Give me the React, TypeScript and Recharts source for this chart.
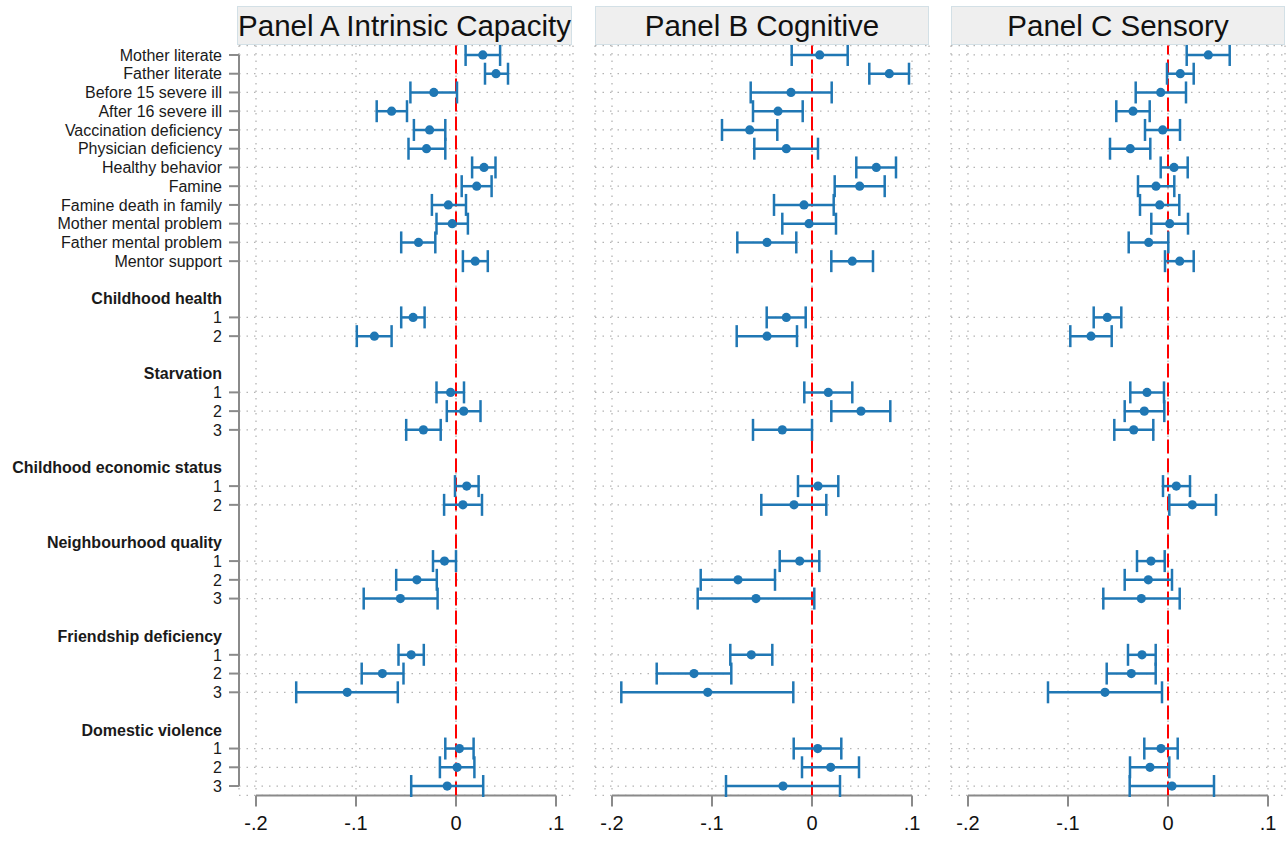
import React from 'react';
import { ScatterChart, Scatter, XAxis, YAxis, CartesianGrid, ReferenceLine, ErrorBar } from 'recharts';

const rowLabels = [
  'Mother literate', 'Father literate', 'Before 15 severe ill', 'After 16 severe ill',
  'Vaccination deficiency', 'Physician deficiency', 'Healthy behavior', 'Famine',
  'Famine death in family', 'Mother mental problem', 'Father mental problem', 'Mentor support',
  '', 'Childhood health', '1', '2',
  '', 'Starvation', '1', '2', '3',
  '', 'Childhood economic status', '1', '2',
  '', 'Neighbourhood quality', '1', '2', '3',
  '', 'Friendship deficiency', '1', '2', '3',
  '', 'Domestic violence', '1', '2', '3',
];
const headerRows = [13, 17, 22, 26, 31, 36];
const dataRows = [0, 1, 2, 3, 4, 5, 6, 7, 8, 9, 10, 11, 14, 15, 18, 19, 20, 23, 24, 27, 28, 29, 32, 33, 34, 37, 38, 39];

const panelTitles = ['Panel A Intrinsic Capacity', 'Panel B Cognitive', 'Panel C Sensory'];
const xTicks = [-0.2, -0.1, 0, 0.1];
const xTickLabels = ['-.2', '-.1', '0', '.1'];

// Panel A
const estA = [0.0268, 0.040, -0.0222, -0.0644, -0.0264, -0.0295, 0.028, 0.0207, -0.0077, -0.0038, -0.0375, 0.0192,
  -0.0429, -0.0816, -0.0054, 0.0077, -0.0326, 0.0107, 0.0069, -0.0115, -0.0391, -0.0556, -0.0448, -0.0736, -0.1088,
  0.0034, 0.0011, -0.0088];
const loA = [0.0096, 0.029, -0.0456, -0.0793, -0.0421, -0.0475, 0.0161, 0.0057, -0.0241, -0.0195, -0.0548, 0.0069,
  -0.0548, -0.0992, -0.0195, -0.0092, -0.0498, -0.001, -0.0119, -0.023, -0.0598, -0.0923, -0.0575, -0.0943, -0.1598,
  -0.0107, -0.0161, -0.0448];
const hiA = [0.0441, 0.052, 0.001, -0.049, -0.0107, -0.0107, 0.0395, 0.0356, 0.010, 0.0119, -0.0207, 0.0318,
  -0.0314, -0.0644, 0.008, 0.0245, -0.0153, 0.0226, 0.026, 0.0, -0.0192, -0.0184, -0.0322, -0.0525, -0.0582,
  0.0176, 0.0184, 0.0272];

// Panel B
const estB = [0.0077, 0.0773, -0.021, -0.034, -0.0623, -0.0257, 0.0643, 0.0477, -0.008, -0.003, -0.045, 0.0403,
  -0.0257, -0.045, 0.0163, 0.049, -0.0297, 0.006, -0.018, -0.0123, -0.074, -0.056, -0.0607, -0.118, -0.1043,
  0.0057, 0.0187, -0.029];
const loB = [-0.0203, 0.0573, -0.0613, -0.059, -0.09, -0.0577, 0.0443, 0.0227, -0.038, -0.0297, -0.0747, 0.0193,
  -0.0453, -0.0753, -0.0077, 0.0193, -0.059, -0.014, -0.0507, -0.0323, -0.1113, -0.1143, -0.0817, -0.1553, -0.1907,
  -0.0183, -0.01, -0.086];
const hiB = [0.0357, 0.097, 0.0197, -0.0093, -0.0347, 0.006, 0.084, 0.0727, 0.0217, 0.024, -0.0157, 0.061,
  -0.0063, -0.015, 0.0403, 0.0783, 0.0, 0.0263, 0.0143, 0.0073, -0.037, 0.0023, -0.0397, -0.0807, -0.0187,
  0.0293, 0.047, 0.028];

// Panel C
const estC = [0.0403, 0.0123, -0.0073, -0.035, -0.0053, -0.0377, 0.006, -0.012, -0.0083, 0.0017, -0.0193, 0.0117,
  -0.0607, -0.077, -0.021, -0.0237, -0.0343, 0.0083, 0.0243, -0.017, -0.0197, -0.0267, -0.026, -0.0367, -0.063,
  -0.007, -0.018, 0.004];
const loC = [0.0187, -0.001, -0.0323, -0.0517, -0.023, -0.058, -0.0073, -0.03, -0.028, -0.0167, -0.0393, -0.003,
  -0.0743, -0.0977, -0.0377, -0.0433, -0.0537, -0.005, 0.0013, -0.031, -0.0433, -0.0647, -0.04, -0.0613, -0.12,
  -0.0237, -0.038, -0.0383];
const hiC = [0.0617, 0.0257, 0.018, -0.0183, 0.012, -0.0177, 0.0197, 0.0063, 0.0113, 0.02, 0.0003, 0.0257,
  -0.0467, -0.0563, -0.004, -0.0037, -0.0147, 0.022, 0.048, -0.0033, 0.004, 0.0117, -0.0123, -0.0123, -0.006,
  0.0097, 0.0013, 0.046];

const FONT = '"Liberation Sans", Arial, Helvetica, sans-serif';
const BLUE = '#1f77b4';
const xDomain: [number, number] = [-0.217, 0.117];
const yDomain: [number, number] = [-0.5, 39.5];
const labelRows = rowLabels.map((l, i) => (l ? i : -1)).filter((i) => i >= 0);

function buildData(est: number[], lo: number[], hi: number[]) {
  return dataRows.map((row, i) => ({ row, est: est[i], err: [est[i] - lo[i], hi[i] - est[i]] }));
}

const panels = [
  { title: panelTitles[0], data: buildData(estA, loA, hiA), left: 0, width: 580, mLeft: 0, labels: true },
  { title: panelTitles[1], data: buildData(estB, loB, hiB), left: 580, width: 356, mLeft: 15, labels: false },
  { title: panelTitles[2], data: buildData(estC, loC, hiC), left: 936, width: 352, mLeft: 15, labels: false },
];

const LabelTick = (props: any) => {
  const { x, y, payload } = props;
  const row = payload.value as number;
  const isHeader = headerRows.includes(row);
  return (
    <g>
      {!isHeader && <line x1={x + 7} x2={x + 17} y1={y} y2={y} stroke="#8a8a8a" strokeWidth={2} />}
      <text x={x} y={y} dy="0.36em" textAnchor="end" fontSize={16} fontWeight={isHeader ? 700 : 400}
        fill="#1a1a1a" fontFamily={FONT}>
        {rowLabels[row]}
      </text>
    </g>
  );
};

const Dot = (props: any) => <circle cx={props.cx} cy={props.cy} r={4.6} fill={BLUE} />;

function Panel({ p }: { p: typeof panels[number] }) {
  const yAxisW = p.labels ? 239 : 0;
  const plotW = 334;
  const mRight = p.width - p.mLeft - yAxisW - plotW;
  return (
    <div style={{ position: 'absolute', left: p.left, top: 0 }}>
      <ScatterChart width={p.width} height={842}
        margin={{ top: 45.6, right: mRight, bottom: 6.6, left: p.mLeft }}
        style={{ fontFamily: FONT }}>
        <CartesianGrid yAxisId="g" stroke="#b4b4b4" strokeWidth={1.3} strokeDasharray="1.5 6" />
        <XAxis type="number" dataKey="est" domain={xDomain} ticks={xTicks} interval={0}
          allowDataOverflow height={40} axisLine={false}
          tickLine={{ stroke: '#8a8a8a', strokeWidth: 2 }} tickSize={11} tickMargin={9}
          tick={{ fontSize: 20, fill: '#111', fontFamily: FONT }}
          tickFormatter={(v: number, i: number) => xTickLabels[i]} />
        <YAxis yAxisId="g" type="number" dataKey="row" domain={yDomain} reversed ticks={dataRows}
          interval={0} hide width={0} allowDataOverflow />
        {p.labels && (
          <YAxis yAxisId="lab" type="number" dataKey="row" domain={yDomain} reversed ticks={labelRows}
            interval={0} width={239} axisLine={false} tickLine={false} tickSize={10} tickMargin={7}
            tick={<LabelTick />} allowDataOverflow />
        )}
        {p.labels && (
          <ReferenceLine yAxisId="g" segment={[{ x: xDomain[0], y: 0 }, { x: xDomain[0], y: 39 }]}
            stroke="#8a8a8a" strokeWidth={2} ifOverflow="visible" />
        )}
        <ReferenceLine yAxisId="g" segment={[{ x: xTicks[0], y: yDomain[1] }, { x: xTicks[3], y: yDomain[1] }]}
          stroke="#8a8a8a" strokeWidth={2} ifOverflow="visible" />
        <ReferenceLine yAxisId="g" x={0} stroke="#ff0000" strokeWidth={2} strokeDasharray="14 5" />
        <Scatter yAxisId="g" data={p.data} shape={<Dot />} isAnimationActive={false}>
          <ErrorBar dataKey="err" direction="x" width={11} stroke={BLUE} strokeWidth={2.5} isAnimationActive={false} />
        </Scatter>
      </ScatterChart>
    </div>
  );
}

const titleBoxes = [
  { left: 237, width: 335 },
  { left: 595, width: 334 },
  { left: 951, width: 334 },
];

export default function App() {
  return (
    <div style={{ position: 'absolute', left: 0, top: 0, width: 1288, height: 842, background: '#fff', overflow: 'hidden' }}>
      {panels.map((p, i) => (
        <Panel key={i} p={p} />
      ))}
      {panels.map((p, i) => (
        <div key={'t' + i} style={{
          position: 'absolute', left: titleBoxes[i].left, top: 6, width: titleBoxes[i].width, height: 39,
          boxSizing: 'border-box', background: '#efefef', border: '1.5px solid #d3e0e6',
          display: 'flex', alignItems: 'center', justifyContent: 'center',
          fontFamily: FONT, fontSize: 29.5, color: '#111', whiteSpace: 'nowrap', overflow: 'visible',
        }}>
          {p.title}
        </div>
      ))}
    </div>
  );
}
